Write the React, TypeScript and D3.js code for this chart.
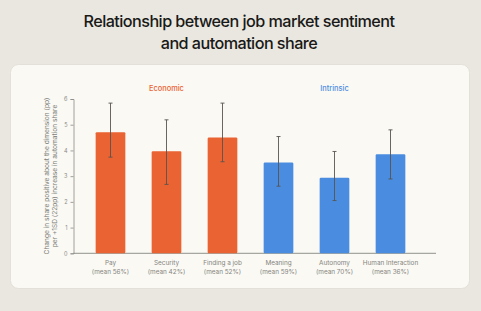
import React, { useRef, useEffect } from "react";
import * as d3 from "d3";

const categories = ["Pay", "Security", "Finding a job", "Meaning", "Autonomy", "Human Interaction"];
const meanLabels = ["(mean 56%)", "(mean 42%)", "(mean 52%)", "(mean 59%)", "(mean 70%)", "(mean 36%)"];
const groups = ["Economic", "Economic", "Economic", "Intrinsic", "Intrinsic", "Intrinsic"];
const values = [4.71, 3.97, 4.5, 3.53, 2.94, 3.85];
const errLow = [3.74, 2.68, 3.56, 2.61, 2.05, 2.89];
const errHigh = [5.84, 5.19, 5.84, 4.54, 3.96, 4.8];
const yTicks = [0, 1, 2, 3, 4, 5, 6];
const groupNames = ["Economic", "Intrinsic"];

const W = 481;
const H = 311;
const FONT = "Inter, 'Noto Sans', sans-serif";
const colors: Record<string, string> = { Economic: "#ea6333", Intrinsic: "#4a8de0" };

function App() {
    const svgRef = useRef<SVGSVGElement>(null);
    useEffect(() => {
        let svg = d3.select(svgRef.current);
        svg.selectChildren().remove();

        svg.append("rect").attr("width", W).attr("height", H).attr("fill", "#e9e7e0");

        // title
        const title = svg.append("text")
            .attr("text-anchor", "middle")
            .attr("font-family", FONT)
            .attr("font-weight", 500)
            .attr("font-size", 16.2)
            .attr("letter-spacing", -0.55)
            .attr("fill", "#191917");
        title.append("tspan").attr("x", 239).attr("y", 27).text("Relationship between job market sentiment");
        title.append("tspan").attr("x", 239).attr("y", 48.5).text("and automation share");

        // card
        svg.append("rect")
            .attr("x", 10.5).attr("y", 64.5)
            .attr("width", 459).attr("height", 224)
            .attr("rx", 8)
            .attr("fill", "#faf9f4")
            .attr("stroke", "#e2e0d8");

        const x = d3.scaleBand<string>()
            .domain(categories)
            .range([82.5, 418.5])
            .paddingInner(0.47)
            .paddingOuter(0.235);
        const y = d3.scaleLinear().domain([0, 6]).range([253.3, 99]);

        const g = svg.append("g");

        // y axis
        const yAxis = g.append("g")
            .attr("transform", "translate(73.5,0)")
            .call(d3.axisLeft(y).tickValues(yTicks).tickSize(3).tickPadding(3).tickFormat(d3.format("d")));
        yAxis.select(".domain").attr("stroke", "#8a8a86").attr("stroke-width", 0.8);
        yAxis.selectAll(".tick line").attr("stroke", "#8a8a86").attr("stroke-width", 0.8);
        yAxis.selectAll(".tick text")
            .attr("font-family", FONT)
            .attr("font-size", 5.5)
            .attr("fill", "#8a8a86");

        // baseline
        g.append("line")
            .attr("x1", 73.5).attr("x2", 436)
            .attr("y1", y(0)).attr("y2", y(0))
            .attr("stroke", "#777773").attr("stroke-width", 0.8);

        // y axis title
        const yt = g.append("text")
            .attr("transform", "translate(0,176) rotate(-90)")
            .attr("text-anchor", "middle")
            .attr("font-family", FONT)
            .attr("font-size", 6.6)
            .attr("fill", "#7d7d79");
        yt.append("tspan").attr("x", 0).attr("y", 49).text("Change in share positive about the dimension (pp)");
        yt.append("tspan").attr("x", 0).attr("y", 57).text("per +1SD (22pp) increase in automation share");

        // bars
        g.selectAll(".bar")
            .data(categories)
            .join("rect")
            .attr("class", "bar")
            .attr("x", d => x(d)!)
            .attr("width", x.bandwidth())
            .attr("y", (d, i) => y(values[i]))
            .attr("height", (d, i) => y(0) - y(values[i]))
            .attr("rx", 1.2)
            .attr("fill", (d, i) => colors[groups[i]]);

        // error bars
        const eb = g.selectAll(".err")
            .data(categories)
            .join("g")
            .attr("class", "err")
            .attr("transform", d => `translate(${x(d)! + x.bandwidth() / 2},0)`)
            .attr("stroke", "#58534f")
            .attr("stroke-width", 0.9);
        eb.append("line").attr("y1", (d, i) => y(errLow[i])).attr("y2", (d, i) => y(errHigh[i]));
        eb.append("line").attr("x1", -2).attr("x2", 2).attr("y1", (d, i) => y(errHigh[i])).attr("y2", (d, i) => y(errHigh[i]));
        eb.append("line").attr("x1", -2).attr("x2", 2).attr("y1", (d, i) => y(errLow[i])).attr("y2", (d, i) => y(errLow[i]));

        // category labels
        const lbl = g.selectAll(".lbl")
            .data(categories)
            .join("text")
            .attr("class", "lbl")
            .attr("text-anchor", "middle")
            .attr("font-family", FONT)
            .attr("font-size", 6.4)
            .attr("fill", "#85857f");
        lbl.append("tspan").attr("x", d => x(d)! + x.bandwidth() / 2).attr("y", 264.5).text(d => d);
        lbl.append("tspan").attr("x", d => x(d)! + x.bandwidth() / 2).attr("y", 273.5).text((d, i) => meanLabels[i]);

        // group headers
        g.selectAll(".grp")
            .data(groupNames)
            .join("text")
            .attr("class", "grp")
            .attr("text-anchor", "middle")
            .attr("x", name => {
                const members = categories.filter((c, i) => groups[i] === name);
                const x0 = x(members[0])!;
                const x1 = x(members[members.length - 1])! + x.bandwidth();
                return (x0 + x1) / 2;
            })
            .attr("y", 90.5)
            .attr("font-family", FONT)
            .attr("font-size", 7.4)
            .attr("font-weight", 500)
            .attr("fill", name => colors[name])
            .text(name => name);
    }, []);
    return (
        <svg ref={svgRef} width={W} height={H}
            style={{ position: "absolute", left: 0, top: 0, display: "block" }}></svg>
    );
}

export default App;
